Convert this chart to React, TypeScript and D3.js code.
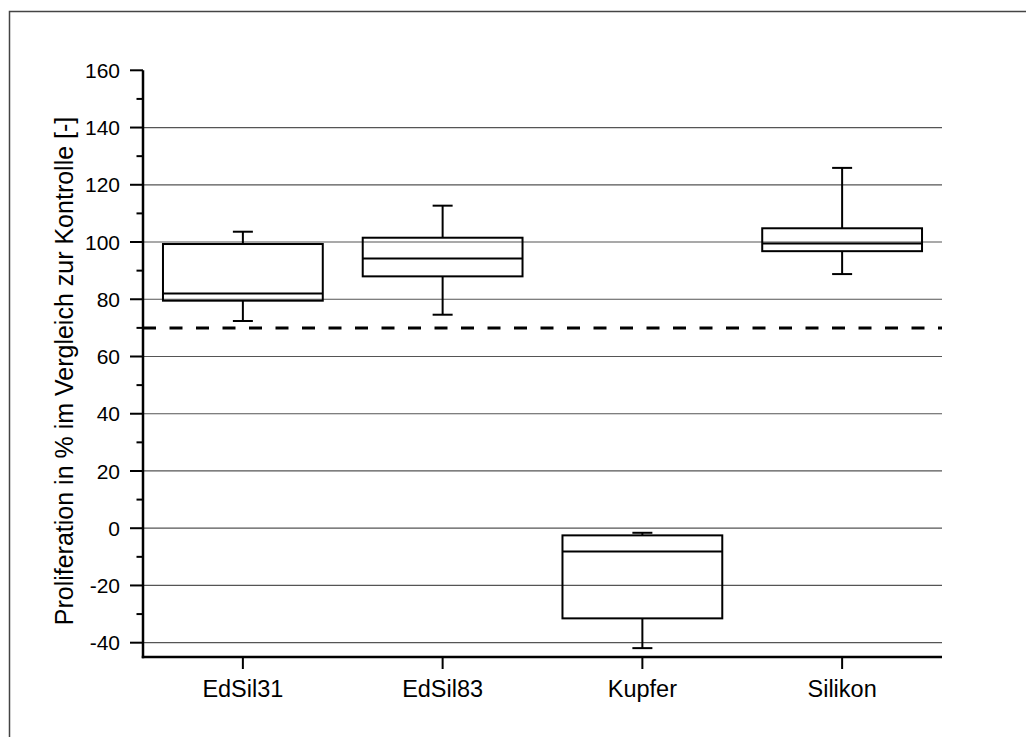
import React from 'react';
import * as d3 from 'd3';

// box plot values (% proliferation vs. control)
const categories = ['EdSil31', 'EdSil83', 'Kupfer', 'Silikon'];
const whiskerLow = [72.4, 74.6, -41.9, 88.8];
const q1 = [79.5, 88.0, -31.5, 96.8];
const median = [82.0, 94.2, -8.1, 99.5];
const q3 = [99.3, 101.5, -2.5, 104.8];
const whiskerHigh = [103.6, 112.7, -1.6, 125.9];
const threshold = 70;
const majorTicks = [-40, -20, 0, 20, 40, 60, 80, 100, 120, 140, 160];
const minorTicks = [-30, -10, 10, 30, 50, 70, 90, 110, 130, 150];
const yLabel = 'Proliferation in % im Vergleich zur Kontrolle [-]';

const FONT = 'Arial, "Liberation Sans", sans-serif';

const App = () => {
    const left = 143;
    const right = 942;
    const top = 70.3;
    const bottom = 657;

    const y = d3.scaleLinear().domain([-45, 160]).range([bottom, top]);
    const x = d3.scaleBand().domain(categories).range([left, right]).padding(0);
    const boxW = x.bandwidth() * 0.8;
    const capW = 20;

    return (
        <svg width={1026} height={737} style={{position: 'absolute', left: 0, top: 0}}>
            <rect x={0} y={0} width={1026} height={737} fill="#fff" />
            {/* outer frame, only left and top edges are in view */}
            <path d="M9.5,745 L9.5,11.5 L1040,11.5" fill="none" stroke="#444" strokeWidth={1.5} />

            {/* grid */}
            {majorTicks.filter(t => t < 160).map(t => (
                <line key={'g' + t} x1={left} x2={right} y1={y(t)} y2={y(t)} stroke="#555" strokeWidth={1.2} />
            ))}

            {/* threshold */}
            <line x1={left} x2={right} y1={y(threshold)} y2={y(threshold)}
                  stroke="#000" strokeWidth={3} strokeDasharray="13 13.5" />

            {/* boxes */}
            {categories.map((c, i) => {
                const cx = (x(c) as number) + x.bandwidth() / 2;
                return (
                    <g key={c} stroke="#000" strokeWidth={2} fill="none">
                        <line x1={cx} x2={cx} y1={y(whiskerHigh[i])} y2={y(q3[i])} />
                        <line x1={cx} x2={cx} y1={y(q1[i])} y2={y(whiskerLow[i])} />
                        <line x1={cx - capW / 2} x2={cx + capW / 2} y1={y(whiskerHigh[i])} y2={y(whiskerHigh[i])} />
                        <line x1={cx - capW / 2} x2={cx + capW / 2} y1={y(whiskerLow[i])} y2={y(whiskerLow[i])} />
                        <rect x={cx - boxW / 2} y={y(q3[i])} width={boxW} height={y(q1[i]) - y(q3[i])} />
                        <line x1={cx - boxW / 2} x2={cx + boxW / 2} y1={y(median[i])} y2={y(median[i])} />
                    </g>
                );
            })}

            {/* y axis */}
            <line x1={left} x2={left} y1={top} y2={bottom + 1.25} stroke="#000" strokeWidth={2.5} />
            {majorTicks.map(t => (
                <g key={'t' + t}>
                    <line x1={left - 13} x2={left} y1={y(t)} y2={y(t)} stroke="#000" strokeWidth={2} />
                    <text x={120} y={y(t)} dy="0.36em" textAnchor="end" fontFamily={FONT} fontSize={21} fill="#000">
                        {t}
                    </text>
                </g>
            ))}
            {minorTicks.map(t => (
                <line key={'m' + t} x1={left - 6.5} x2={left} y1={y(t)} y2={y(t)} stroke="#000" strokeWidth={2} />
            ))}
            <text transform={`translate(72.5,371) rotate(-90)`} textAnchor="middle" fontFamily={FONT}
                  fontSize={25} fill="#000">{yLabel}</text>

            {/* x axis */}
            <line x1={left - 1.25} x2={right} y1={bottom} y2={bottom} stroke="#000" strokeWidth={2.5} />
            {categories.map(c => {
                const cx = (x(c) as number) + x.bandwidth() / 2;
                return (
                    <g key={'x' + c}>
                        <line x1={cx} x2={cx} y1={bottom} y2={bottom + 12} stroke="#000" strokeWidth={2} />
                        <text x={cx} y={697} textAnchor="middle" fontFamily={FONT} fontSize={23.5} fill="#000">{c}</text>
                    </g>
                );
            })}
        </svg>
    );
};

export default App;
